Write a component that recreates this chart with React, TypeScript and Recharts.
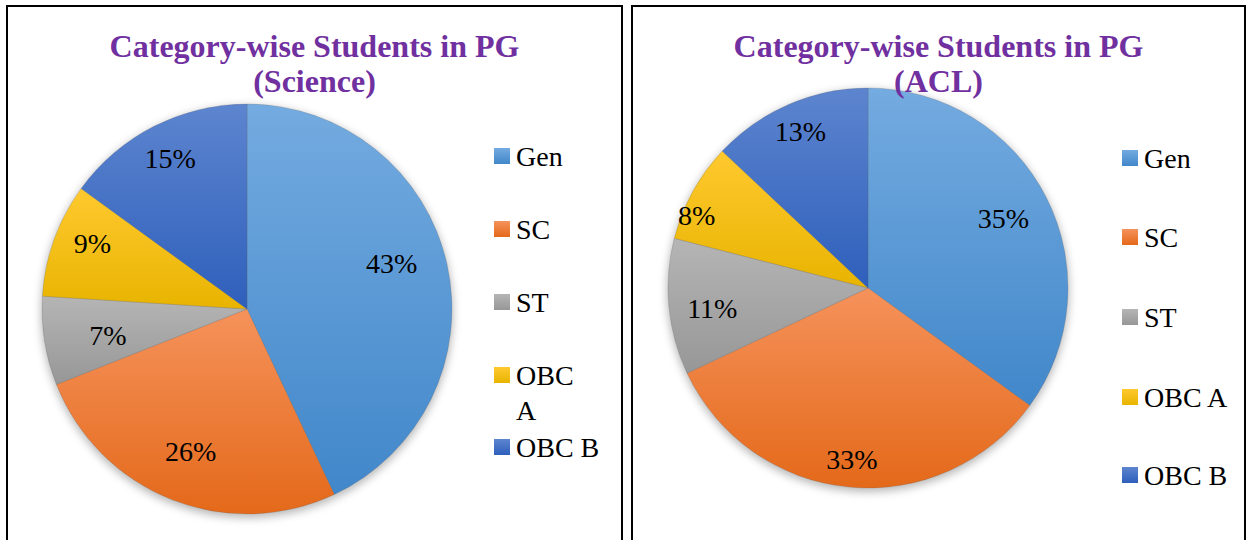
import { PieChart, Pie, Cell, Legend } from "recharts";

const categories = ["Gen", "SC", "ST", "OBC A", "OBC B"];
const scienceValues = [43, 26, 7, 9, 15];
const aclValues = [35, 33, 11, 8, 13];

const gradients = [
  { id: "gen", top: "#74abe0", bottom: "#4187ca" },
  { id: "sc", top: "#f5925b", bottom: "#e4691a" },
  { id: "st", top: "#b5b5b5", bottom: "#979797" },
  { id: "obca", top: "#ffc92f", bottom: "#e8b400" },
  { id: "obcb", top: "#5d85cf", bottom: "#2e5fbb" },
];

const FONT = '"Liberation Serif", "Times New Roman", serif';

type PanelProps = {
  prefix: string;
  titleLines: string[];
  values: number[];
  left: number;
  width: number;
  cx: number;
  cy: number;
  r: number;
  labelDist: number[];
  labelTurn: number[];
  legendX: number;
  legendRows: number[];
  wrapNames?: string[];
};

const Panel = ({ prefix, titleLines, values, left, width, cx, cy, r, labelDist, labelTurn, legendX, legendRows, wrapNames = [] }: PanelProps) => {
  const data = categories.map((name, i) => ({ name, value: values[i] }));

  // labels sit roughly where Excel's "best fit" put them
  const renderLabel = (props: any) => {
    const { midAngle, index, value } = props;
    const d = labelDist[index] * r;
    const rad = (-(midAngle - labelTurn[index]) * Math.PI) / 180;
    const x = cx + d * Math.cos(rad);
    const y = cy + d * Math.sin(rad);
    return (
      <text x={x} y={y} textAnchor="middle" dominantBaseline="central" fontSize={28} style={{ fontFamily: FONT }} fill="#000">
        {`${value}%`}
      </text>
    );
  };

  const renderLegend = () => (
    <div style={{ position: "relative", width: 120, height: 400, fontFamily: FONT, fontSize: 28, color: "#000" }}>
      {categories.map((name, i) => {
        const lines = wrapNames.includes(name) ? name.split(" ") : [name];
        return (
          <div key={name} style={{ position: "absolute", left: 0, top: legendRows[i] - 17.5, display: "flex", alignItems: "flex-start" }}>
            <svg width={16} height={16} style={{ marginTop: 9.5, marginRight: 6, flex: "none" }}>
              <rect width={16} height={16} fill={`url(#${prefix}-${gradients[i].id})`} />
            </svg>
            <div style={{ lineHeight: "35px", whiteSpace: "nowrap" }}>
              {lines.map((l) => (
                <div key={l}>{l}</div>
              ))}
            </div>
          </div>
        );
      })}
    </div>
  );

  return (
    <div style={{ position: "absolute", left, top: 5, width, height: 560, border: "2px solid #000", boxSizing: "border-box", background: "#fff", fontFamily: FONT }}>
      <div style={{ position: "absolute", left: 0, top: 0, width: "100%", textAlign: "center", fontWeight: "bold", fontSize: 32, lineHeight: "35px", color: "#7030a0", paddingTop: 22, zIndex: 2 }}>
        {titleLines.map((t) => (
          <div key={t}>{t}</div>
        ))}
      </div>
      <PieChart width={width - 4} height={540} margin={{ top: 0, right: 0, bottom: 0, left: 0 }} style={{ position: "absolute", left: 0, top: 0 }}>
        <defs>
          {gradients.map((g) => (
            <linearGradient key={g.id} id={`${prefix}-${g.id}`} x1="0" y1="0" x2="0" y2="1">
              <stop offset="0%" stopColor={g.top} />
              <stop offset="100%" stopColor={g.bottom} />
            </linearGradient>
          ))}
          <filter id={`${prefix}-shadow`} x="-20%" y="-20%" width="140%" height="140%">
            <feGaussianBlur stdDeviation={4} />
          </filter>
        </defs>
        <Pie
          data={data}
          dataKey="value"
          cx={cx}
          cy={cy + 3}
          outerRadius={r + 1}
          startAngle={90}
          endAngle={-270}
          stroke="none"
          fill="rgba(0,0,0,0.28)"
          filter={`url(#${prefix}-shadow)`}
          legendType="none"
          isAnimationActive={false}
        />
        <Pie
          data={data}
          dataKey="value"
          cx={cx}
          cy={cy}
          outerRadius={r}
          startAngle={90}
          endAngle={-270}
          stroke="rgba(90,90,90,0.35)"
          strokeWidth={0.6}
          label={renderLabel}
          labelLine={false}
          isAnimationActive={false}
        >
          {data.map((_, i) => (
            <Cell key={i} fill={`url(#${prefix}-${gradients[i].id})`} />
          ))}
        </Pie>
        <Legend content={renderLegend} wrapperStyle={{ position: "absolute", left: legendX, top: 0, width: 120 }} />
      </PieChart>
    </div>
  );
};

const App = () => (
  <div style={{ position: "absolute", left: 0, top: 0, width: 1247, height: 540, overflow: "hidden", background: "#fff" }}>
    <Panel
      prefix="sci"
      titleLines={["Category-wise Students in PG", "(Science)"]}
      values={scienceValues}
      left={6}
      width={617}
      cx={239}
      cy={302}
      r={205}
      labelDist={[0.74, 0.745, 0.69, 0.82, 0.825]}
      labelTurn={[-5, 0, -1.6, 3.3, 0]}
      legendX={486}
      legendRows={[149, 222, 295, 368, 440]}
      wrapNames={["OBC A"]}
    />
    <Panel
      prefix="acl"
      titleLines={["Category-wise Students in PG", "(ACL)"]}
      values={aclValues}
      left={631}
      width={615}
      cx={235}
      cy={281}
      r={200}
      labelDist={[0.76, 0.86, 0.785, 0.93, 0.85]}
      labelTurn={[0, 0, -2, -5.8, 0]}
      legendX={489}
      legendRows={[151, 230, 310, 390, 468]}
    />
  </div>
);

export default App;
